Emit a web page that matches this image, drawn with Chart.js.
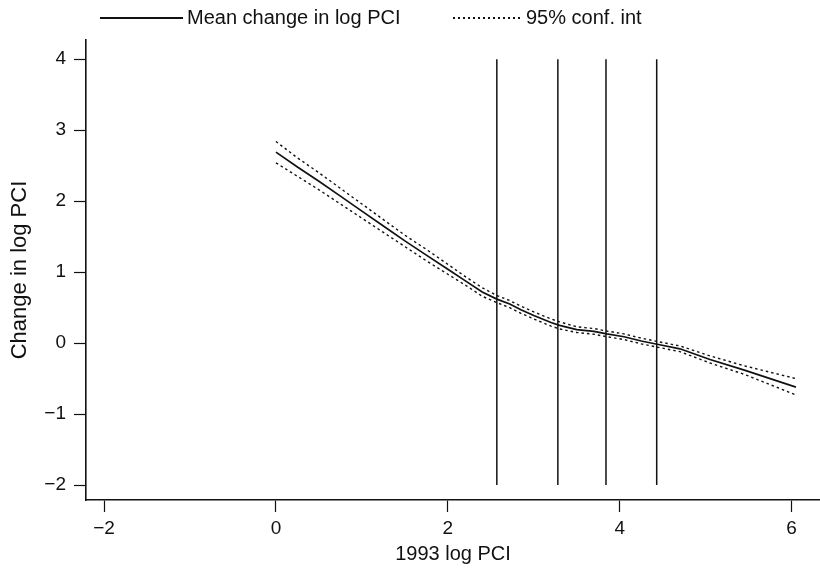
<!DOCTYPE html>
<html>
<head>
    <style>
        body { margin: 0; background: #fff; }
        #wrap { position: relative; width: 820px; height: 570px; }
        #legend {
            position: absolute; top: 4px; left: 0;
            font-family: "Liberation Sans", Arial, sans-serif;
            font-size: 20px; color: #111;
        }
        .item { position: absolute; white-space: nowrap; line-height: 26px; }
        .sw { position: absolute; top: 13px; height: 1.5px; }
        .solid { background: #111; }
        .dots { background: repeating-linear-gradient(to right, #111 0 2.5px, transparent 2.5px 5px); }
    </style>
    <script src="https://cdn.jsdelivr.net/npm/chart.js"></script>
</head>
<body>
<div id="wrap">
    <canvas id="myChart" width="820" height="570"></canvas>
    <div id="legend">
        <div class="sw solid" style="left:100px; width:83px;"></div>
        <div class="item" style="left:187px;">Mean change in log PCI</div>
        <div class="sw dots" style="left:453px; width:69px;"></div>
        <div class="item" style="left:526px;">95% conf. int</div>
    </div>
</div>
<script>
    // 1993 log PCI (x) and the smoothed change in log PCI
    var logPci = [0, 0.25, 0.5, 0.75, 1.0, 1.25, 1.5, 1.75, 2.0, 2.2, 2.4, 2.57, 2.72, 2.85, 3.0, 3.2, 3.3, 3.5, 3.7, 3.85, 4.05, 4.25, 4.45, 4.7, 5.05, 5.45, 6.05];
    var meanChange = [2.69, 2.48, 2.28, 2.07, 1.86, 1.65, 1.44, 1.24, 1.04, 0.88, 0.72, 0.62, 0.55, 0.47, 0.39, 0.29, 0.25, 0.19, 0.165, 0.13, 0.09, 0.03, -0.02, -0.08, -0.23, -0.38, -0.62];
    var upperCI = [2.84, 2.61, 2.40, 2.18, 1.96, 1.74, 1.52, 1.32, 1.11, 0.94, 0.78, 0.67, 0.60, 0.52, 0.44, 0.34, 0.30, 0.23, 0.205, 0.17, 0.13, 0.07, 0.02, -0.04, -0.18, -0.32, -0.50];
    var lowerCI = [2.54, 2.35, 2.16, 1.96, 1.76, 1.56, 1.36, 1.16, 0.97, 0.82, 0.66, 0.57, 0.50, 0.42, 0.34, 0.24, 0.20, 0.15, 0.125, 0.09, 0.05, -0.01, -0.06, -0.12, -0.28, -0.44, -0.73];

    // vertical reference lines
    var cutoffs = [2.57, 3.28, 3.84, 4.43];
    var cutoffSpan = [-2, 4];

    var xTicks = [-2, 0, 2, 4, 6];
    var yTicks = [-2, -1, 0, 1, 2, 3, 4];

    function pts(ys) {
        return logPci.map(function(x, i) { return {x: x, y: ys[i]}; });
    }
    function minus(v) { return String(v).replace('-', '\u2212'); }

    var datasets = [
        { data: pts(upperCI), borderColor: '#111', borderWidth: 1.4, borderDash: [2.5, 3] },
        { data: pts(lowerCI), borderColor: '#111', borderWidth: 1.4, borderDash: [2.5, 3] },
        { data: pts(meanChange), borderColor: '#111', borderWidth: 1.7 }
    ];
    cutoffs.forEach(function(c) {
        datasets.push({
            data: cutoffSpan.map(function(y) { return {x: c, y: y}; }),
            borderColor: '#111', borderWidth: 1.5
        });
    });
    datasets.forEach(function(d) { d.showLine = true; d.pointRadius = 0; d.tension = 0; d.fill = false; });

    var fam = '"Liberation Sans", Arial, sans-serif';
    var tickFont = { family: fam, size: 19 };

    var ctx = document.getElementById('myChart').getContext('2d');
    var myChart = new Chart(ctx, {
        type: 'scatter',
        data: { datasets: datasets },
        options: {
            responsive: false,
            animation: false,
            layout: { padding: { top: 40, right: 0, left: 0, bottom: 0 } },
            plugins: { legend: { display: false }, tooltip: { enabled: false } },
            scales: {
                x: {
                    type: 'linear', min: -2.21, max: 6.33,
                    afterBuildTicks: function(s) { s.ticks = xTicks.map(function(v) { return {value: v}; }); },
                    afterFit: function(s) { s.height = 70; },
                    grid: { drawOnChartArea: false, tickLength: 12, tickColor: '#111', tickWidth: 1.2 },
                    border: { color: '#111', width: 1.6 },
                    ticks: { color: '#111', font: tickFont, padding: 5, maxRotation: 0, callback: minus },
                    title: { display: true, text: '1993 log PCI', color: '#111', font: { family: fam, size: 20 }, padding: { top: 0, bottom: 4 } }
                },
                y: {
                    min: -2.21, max: 4.27,
                    afterBuildTicks: function(s) { s.ticks = yTicks.map(function(v) { return {value: v}; }); },
                    afterFit: function(s) { s.width = 86; },
                    grid: { drawOnChartArea: false, tickLength: 12, tickColor: '#111', tickWidth: 1.2 },
                    border: { color: '#111', width: 1.6 },
                    ticks: { color: '#111', font: tickFont, padding: 8, callback: minus },
                    title: { display: true, text: 'Change in log PCI', color: '#111', font: { family: fam, size: 22 }, padding: { top: 7, bottom: 0 } }
                }
            }
        }
    });
</script>
</body>
</html>
